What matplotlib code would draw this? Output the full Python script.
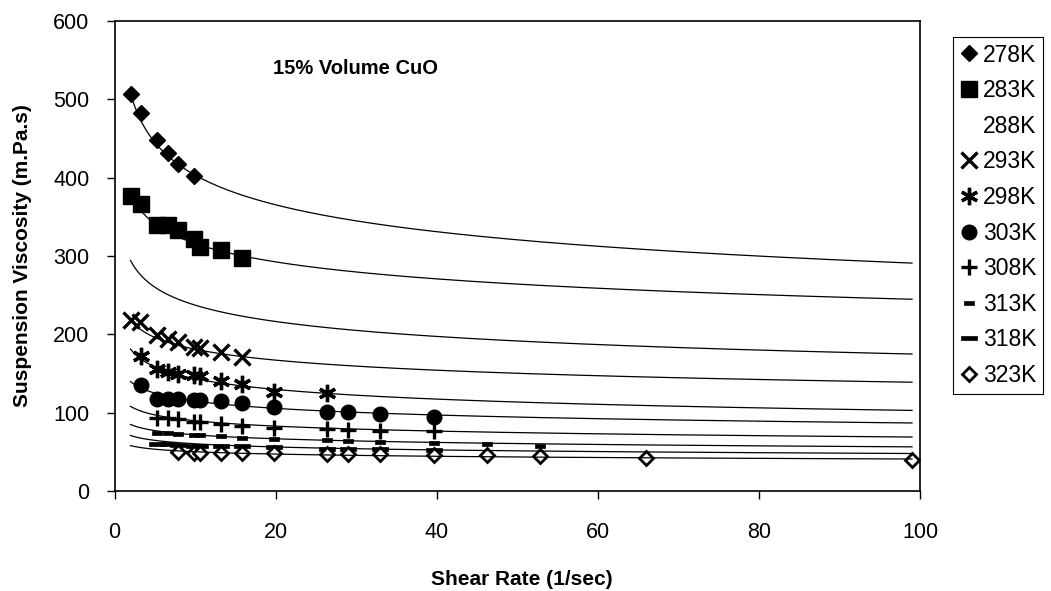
import numpy as np
import matplotlib
matplotlib.use('Agg')
import matplotlib.pyplot as plt
from matplotlib.lines import Line2D

plt.rcParams['font.family'] = ['Liberation Sans', 'DejaVu Sans']

# shear rates (1/sec) and measured viscosities (m.Pa.s), 15% volume CuO
temps = ['278K', '283K', '288K', '293K', '298K', '303K', '308K', '313K', '318K', '323K']

x_278 = [1.98, 3.3, 5.28, 6.6, 7.92, 9.9]
v_278 = [507, 483, 448, 431, 417, 402]

x_283 = [1.98, 3.3, 5.28, 6.6, 7.92, 9.9, 10.56, 13.2, 15.84]
v_283 = [377, 367, 339, 340, 333, 322, 311, 308, 298]

x_288 = []
v_288 = []

x_293 = [1.98, 3.1, 5.28, 6.6, 7.92, 9.9, 10.56, 13.2, 15.84]
v_293 = [218, 216, 199, 194, 190, 184, 183, 178, 171]

x_298 = [3.3, 5.28, 6.6, 7.92, 9.9, 10.56, 13.2, 15.84, 19.8, 26.4]
v_298 = [173, 156, 152, 150, 148, 147, 141, 137, 127, 125]

x_303 = [3.3, 5.28, 6.6, 7.92, 9.9, 10.56, 13.2, 15.84, 19.8, 26.4, 29.04, 33, 39.6]
v_303 = [135, 118, 118, 117, 116, 116, 115, 112, 107, 101, 101, 98, 95]

x_308 = [5.28, 6.6, 7.92, 9.9, 10.56, 13.2, 15.84, 19.8, 26.4, 29.04, 33, 39.6]
v_308 = [93, 93, 92, 88, 88, 86, 83, 80, 79, 78, 77, 77]

x_313 = [5.28, 6.6, 7.92, 9.9, 10.56, 13.2, 15.84, 19.8, 26.4, 29.04, 33, 39.6, 46.2, 52.8]
v_313 = [74, 74, 73, 71, 71, 70, 68, 67, 65, 64, 63, 61.5, 59.5, 57.5]

x_318 = [5.28, 6.6, 7.92, 9.9, 10.56, 13.2, 15.84, 19.8, 26.4, 29.04, 33, 39.6]
v_318 = [60, 60, 59, 57, 57, 58, 57, 56, 54, 54, 53.5, 53]

x_323 = [7.92, 9.9, 10.56, 13.2, 15.84, 19.8, 26.4, 29.04, 33, 39.6, 46.2, 52.8, 66, 99]
v_323 = [50, 49, 49, 49, 49, 48.5, 48, 47.5, 47, 46.5, 45.5, 44.5, 42, 40]

# power law trendlines  mu = a * rate^b
trend_a = [559.6, 408.2, 322.4, 236.1, 200.1, 152.0, 117.0, 91.4, 76.1, 61.7]
trend_b = [-0.1423, -0.1112, -0.1330, -0.1153, -0.1445, -0.1215, -0.1148, -0.1047, -0.1003, -0.0889]
trend_range = [1.98, 99]

xs = [x_278, x_283, x_288, x_293, x_298, x_303, x_308, x_313, x_318, x_323]
vs = [v_278, v_283, v_288, v_293, v_298, v_303, v_308, v_313, v_318, v_323]

short_bar = [(-1, -0.42), (1, -0.42), (1, 0.42), (-1, 0.42), (-1, -0.42)]
long_bar = [(-1, -0.2), (1, -0.2), (1, 0.2), (-1, 0.2), (-1, -0.2)]

styles = [
    dict(marker='D', ms=8.5, mfc='black', mec='black', mew=1),
    dict(marker='s', ms=11, mfc='black', mec='black', mew=1),
    dict(marker='None'),
    dict(marker='x', ms=11, mec='black', mew=2.4),
    dict(marker=(6, 2, 0), ms=12.5, mec='black', mew=2.4),
    dict(marker='o', ms=10.5, mfc='black', mec='black', mew=1),
    dict(marker='+', ms=11, mec='black', mew=2.4),
    dict(marker=short_bar, ms=7.5, mfc='black', mec='black', mew=0.5),
    dict(marker=long_bar, ms=11, mfc='black', mec='black', mew=0.5),
    dict(marker='D', ms=7.5, mfc='white', mec='black', mew=2),
]

fig = plt.figure(figsize=(10.51, 5.91), dpi=100)
ax = fig.add_axes([0.109, 0.169, 0.7664, 0.7955])

rate = np.linspace(trend_range[0], trend_range[1], 400)
handles = []
for i, t in enumerate(temps):
    if len(xs[i]) > 0:
        ax.plot(xs[i], vs[i], linestyle='none', zorder=2, **styles[i])
    ax.plot(rate, trend_a[i] * rate ** trend_b[i], color='black', lw=0.9, zorder=3)
    handles.append(Line2D([], [], linestyle='none', label=t, **styles[i]))

ax.text(19.7, 539, '15% Volume CuO', fontsize=14.5, fontweight='bold', va='center', ha='left')

ax.set_xlim(0, 100)
ax.set_ylim(0, 600)
ax.set_xticks(np.arange(0, 101, 20))
ax.set_yticks(np.arange(0, 601, 100))
ax.tick_params(axis='both', direction='out', length=6, width=1, labelsize=15.5, colors='black')
ax.tick_params(axis='x', pad=16)
ax.tick_params(axis='y', pad=12)
for s in ax.spines.values():
    s.set_linewidth(1.2)
    s.set_color('black')

ax.set_xlabel('Shear Rate (1/sec)', fontsize=15, fontweight='bold')
ax.set_ylabel('Suspension Viscosity (m.Pa.s)', fontsize=15, fontweight='bold')
ax.xaxis.set_label_coords(0.505, -0.168)
ax.yaxis.set_label_coords(-0.102, 0.5)

leg = fig.legend(handles=handles, loc='upper left', bbox_to_anchor=(0.9068, 0.938),
                 fontsize=16.5, frameon=True, fancybox=False, framealpha=1,
                 edgecolor='black', handlelength=0.8, handletextpad=0.2,
                 labelspacing=0.55, borderpad=0.3, borderaxespad=0)
leg.get_frame().set_linewidth(0.8)

fig.savefig('out.png', dpi=100)
